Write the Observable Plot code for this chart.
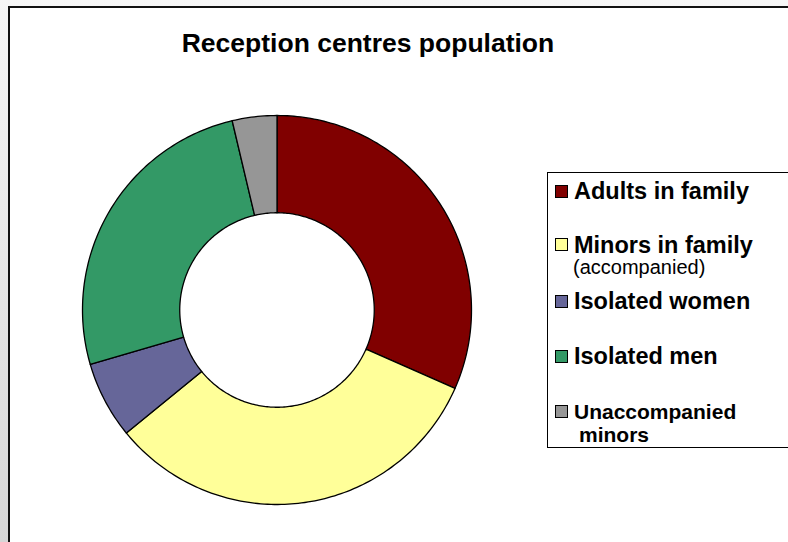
<!DOCTYPE html>
<html>
<head>
<meta charset="utf-8">
<script src="https://cdn.jsdelivr.net/npm/d3@7"></script>
<script src="https://cdn.jsdelivr.net/npm/@observablehq/plot@0.6"></script>
<style>
  html, body { margin: 0; padding: 0; }
  body { width: 788px; height: 542px; overflow: hidden; position: relative;
         background: linear-gradient(to bottom, #f6f6f6, #d6d6d6); }
  #frame { position: absolute; left: 8px; top: 6px; width: 800px; height: 560px;
           background: #fff; border-left: 2px solid #111; border-top: 2px solid #111; }
  #chart { position: absolute; left: 0; top: 0; }
  svg text { font-family: Arial, "Liberation Sans", sans-serif; }
</style>
</head>
<body>
<div id="frame"></div>
<div id="chart"></div>
<script>
const title = "Reception centres population";
const categories = ["Adults in family", "Minors in family", "Isolated women", "Isolated men", "Unaccompanied minors"];
const shares = [31.6, 32.5, 6.4, 25.8, 3.7];
const colors = ["#800000", "#ffff99", "#666699", "#339966", "#969696"];
const innerRatio = 0.5;

// slice outlines from the shares (angles clockwise from 12 o'clock)
const arcs = d3.pie().sort(null).value(d => d)(shares);
const points = [];
arcs.forEach((a, i) => {
  const n = Math.max(2, Math.ceil((a.endAngle - a.startAngle) / (Math.PI / 180)));
  const ring = [];
  for (let k = 0; k <= n; k++) {
    const t = a.startAngle + (a.endAngle - a.startAngle) * k / n;
    ring.push({ r: 1, t });
  }
  for (let k = n; k >= 0; k--) {
    const t = a.startAngle + (a.endAngle - a.startAngle) * k / n;
    ring.push({ r: innerRatio, t });
  }
  ring.push(ring[0]);
  ring.forEach(p => points.push({ name: categories[i], x: p.r * Math.sin(p.t), y: p.r * Math.cos(p.t) }));
});

const chart = Plot.plot({
  width: 788,
  height: 542,
  marginLeft: 82,
  marginRight: 317,
  marginTop: 115,
  marginBottom: 38,
  x: { domain: [-1, 1], axis: null },
  y: { domain: [-1, 1], axis: null },
  color: { domain: categories, range: colors },
  style: { background: "transparent", overflow: "visible" },
  marks: [
    Plot.line(points, { x: "x", y: "y", z: "name", fill: "name", stroke: "#000", strokeWidth: 1.3, curve: "linear", strokeLinejoin: "round" })
  ]
});
document.getElementById("chart").appendChild(chart);

const svg = d3.select(chart);
svg.append("text").attr("x", 368).attr("y", 52).attr("text-anchor", "middle")
  .attr("font-size", 26.5).attr("font-weight", "bold").attr("fill", "#000").text(title);

// legend
const lg = svg.append("g").attr("text-anchor", "start");
lg.append("rect").attr("x", 547.5).attr("y", 172.5).attr("width", 260).attr("height", 275)
  .attr("fill", "#fff").attr("stroke", "#000").attr("stroke-width", 1);
const rows = [
  { lines: [{ t: categories[0], y: 199, size: 23.5, bold: true, x: 574 }], sy: 185 },
  { lines: [{ t: categories[1], y: 253, size: 23.5, bold: true, x: 574 }, { t: "(accompanied)", y: 274, size: 20, bold: false, x: 573 }], sy: 238 },
  { lines: [{ t: categories[2], y: 309, size: 23.5, bold: true, x: 574 }], sy: 295 },
  { lines: [{ t: categories[3], y: 364, size: 23.5, bold: true, x: 574 }], sy: 350 },
  { lines: [{ t: "Unaccompanied", y: 419, size: 21, bold: true, x: 574 }, { t: "minors", y: 442, size: 21, bold: true, x: 579 }], sy: 405 }
];
rows.forEach((r, i) => {
  lg.append("rect").attr("x", 555.5).attr("y", r.sy + 0.5).attr("width", 12).attr("height", 12)
    .attr("fill", colors[i]).attr("stroke", "#000").attr("stroke-width", 1);
  r.lines.forEach(l => {
    lg.append("text").attr("x", l.x).attr("y", l.y).attr("font-size", l.size)
      .attr("text-anchor", "start")
      .attr("font-weight", l.bold ? "bold" : "normal").attr("fill", "#000").text(l.t);
  });
});
</script>
</body>
</html>
